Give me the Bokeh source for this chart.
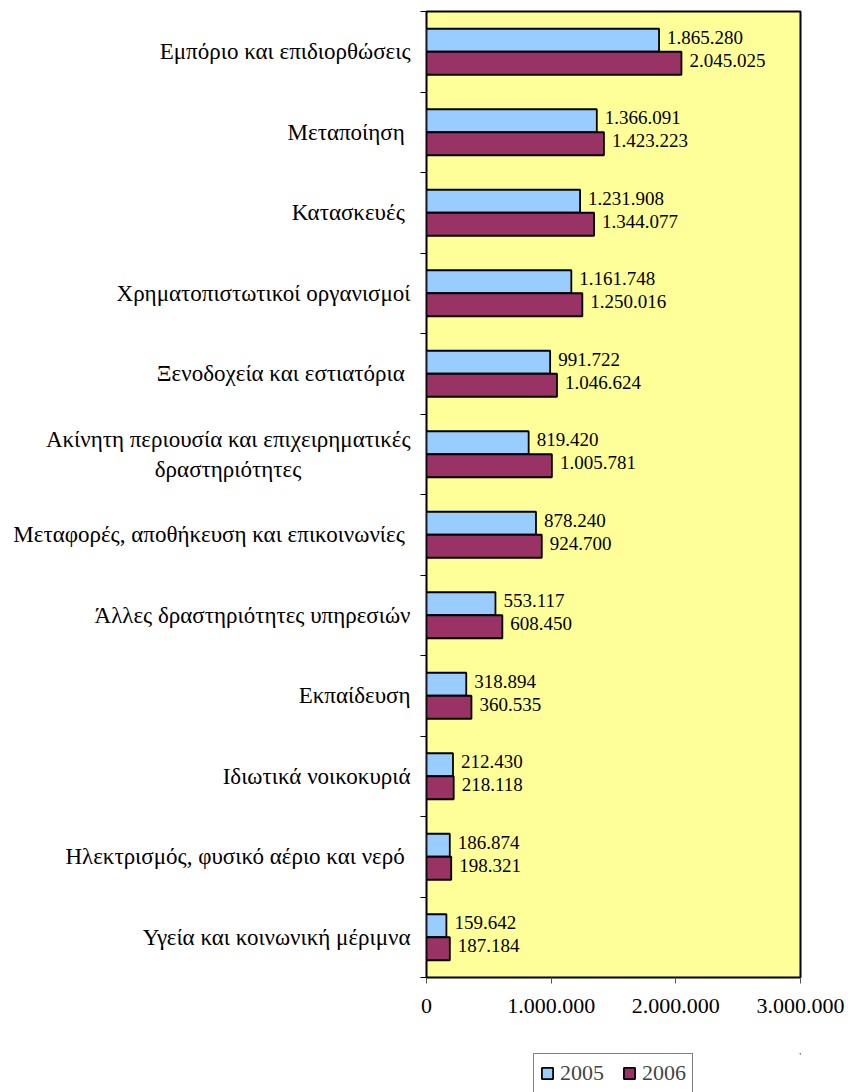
from bokeh.plotting import figure
from bokeh.layouts import column
from bokeh.models import (ColumnDataSource, Range1d, LinearAxis, FixedTicker, Legend, LegendItem)
from bokeh.core.properties import value
from bokeh.embed import file_html
from bokeh.resources import INLINE

NB = "\u00a0"
categories = [
    "Εμπόριο και επιδιορθώσεις",
    "Μεταποίηση" + NB,
    "Κατασκευές" + NB,
    "Χρηματοπιστωτικοί οργανισμοί",
    "Ξενοδοχεία και εστιατόρια" + NB,
    "Ακίνητη περιουσία και επιχειρηματικές\nδραστηριότητες" + NB * 19,
    "Μεταφορές, αποθήκευση και επικοινωνίες" + NB,
    "Άλλες δραστηριότητες υπηρεσιών",
    "Εκπαίδευση",
    "Ιδιωτικά νοικοκυριά",
    "Ηλεκτρισμός, φυσικό αέριο και νερό" + NB,
    "Υγεία και κοινωνική μέριμνα",
]
values_2005 = [1865280, 1366091, 1231908, 1161748, 991722, 819420, 878240, 553117, 318894, 212430, 186874, 159642]
values_2006 = [2045025, 1423223, 1344077, 1250016, 1046624, 1005781, 924700, 608450, 360535, 218118, 198321, 187184]
series_names = ["2005", "2006"]
series_colors = ["#99CCFF", "#993366"]
x_ticks = [0, 1000000, 2000000, 3000000]
x_tick_labels = ["0", "1.000.000", "2.000.000", "3.000.000"]

FONT = "Liberation Serif"
n = len(categories)

def fmt(v):
    return f"{v:,}".replace(",", ".")

bar_h = 0.286
off = 0.143
centers = [n - i - 0.5 for i in range(n)]

src = ColumnDataSource(dict(
    cat=categories,
    y05=[c + off for c in centers],
    y06=[c - off for c in centers],
    v05=values_2005,
    v06=values_2006,
    l05=[fmt(v) for v in values_2005],
    l06=[fmt(v) for v in values_2006],
))

p = figure(
    y_range=Range1d(0, n),
    x_range=Range1d(0, 3000000),
    frame_width=374, frame_height=966,
    min_border_left=426, min_border_right=48, min_border_top=11, min_border_bottom=76,
    output_backend="svg", toolbar_location=None,
    y_axis_location=None, x_axis_location=None,
    background_fill_color="#FFFF99", border_fill_color="white",
)
p.outline_line_color = "black"
p.outline_line_width = 2
p.xgrid.visible = False
p.ygrid.visible = False

p.hbar(y="y05", right="v05", left=0, height=bar_h, source=src,
       fill_color=series_colors[0], line_color="black", line_width=1.8)
p.hbar(y="y06", right="v06", left=0, height=bar_h, source=src,
       fill_color=series_colors[1], line_color="black", line_width=1.8)

p.text(x="v05", y="y05", text="l05", source=src, x_offset=8, y_offset=-3,
       text_font=value(FONT), text_font_size="19px", text_baseline="middle", text_color="black")
p.text(x="v06", y="y06", text="l06", source=src, x_offset=8, y_offset=-3,
       text_font=value(FONT), text_font_size="19px", text_baseline="middle", text_color="black")

# tick marks at category boundaries (no labels)
bounds = list(range(n + 1))
tick_ax = LinearAxis(ticker=FixedTicker(ticks=bounds),
                     major_label_overrides={b: "" for b in bounds}, major_label_standoff=0,
                     axis_line_color=None, major_tick_in=0, major_tick_out=6,
                     major_tick_line_color="black", minor_tick_line_color=None)
p.add_layout(tick_ax, "left")

# category labels at band centres
cat_ax = LinearAxis(ticker=FixedTicker(ticks=centers),
                    major_label_overrides={c: lab for c, lab in zip(centers, categories)},
                    axis_line_color=None, major_tick_line_color=None, minor_tick_line_color=None,
                    major_tick_out=0, major_tick_in=0, major_label_standoff=10,
                    major_label_text_font=FONT, major_label_text_font_size="23px",
                    major_label_text_color="black")
p.add_layout(cat_ax, "left")

x_ax = LinearAxis(ticker=FixedTicker(ticks=x_ticks),
                  major_label_overrides={t: l for t, l in zip(x_ticks, x_tick_labels)},
                  axis_line_color="black", axis_line_width=1,
                  major_tick_in=0, major_tick_out=6, major_tick_line_color="#555555",
                  minor_tick_line_color=None, major_label_standoff=15,
                  major_label_text_font=FONT, major_label_text_font_size="22px",
                  major_label_text_color="black")
p.add_layout(x_ax, "below")

# legend in its own strip below the chart
leg = figure(width=848, height=45, x_range=Range1d(0, 1), y_range=Range1d(0, 1),
             min_border_left=372, min_border_right=0, min_border_top=0, min_border_bottom=0,
             output_backend="svg", toolbar_location=None,
             x_axis_location=None, y_axis_location=None,
             background_fill_color="white", border_fill_color="white")
leg.outline_line_color = None
leg.xgrid.visible = False
leg.ygrid.visible = False
# one swatch-source point lying outside the strip's visible range
swatch = ColumnDataSource(dict(y=[10], right=[10]))
d1 = leg.hbar(y="y", right="right", left=9, height=0.1, source=swatch,
              fill_color=series_colors[0], line_color="black", line_width=1.8)
d2 = leg.hbar(y="y", right="right", left=9, height=0.1, source=swatch,
              fill_color=series_colors[1], line_color="black", line_width=1.8)
legend = Legend(items=[LegendItem(label=series_names[0], renderers=[d1]),
                       LegendItem(label=series_names[1], renderers=[d2])],
                orientation="horizontal", location="top_center",
                border_line_color="black", border_line_width=1, background_fill_color="white",
                label_text_font=FONT, label_text_font_size="22px",
                glyph_width=14, glyph_height=14, label_standoff=6, spacing=18,
                padding=6, margin=0)
leg.add_layout(legend, "center")

layout = column(p, leg, spacing=0)
open("out.html", "w").write(file_html(layout, INLINE))
